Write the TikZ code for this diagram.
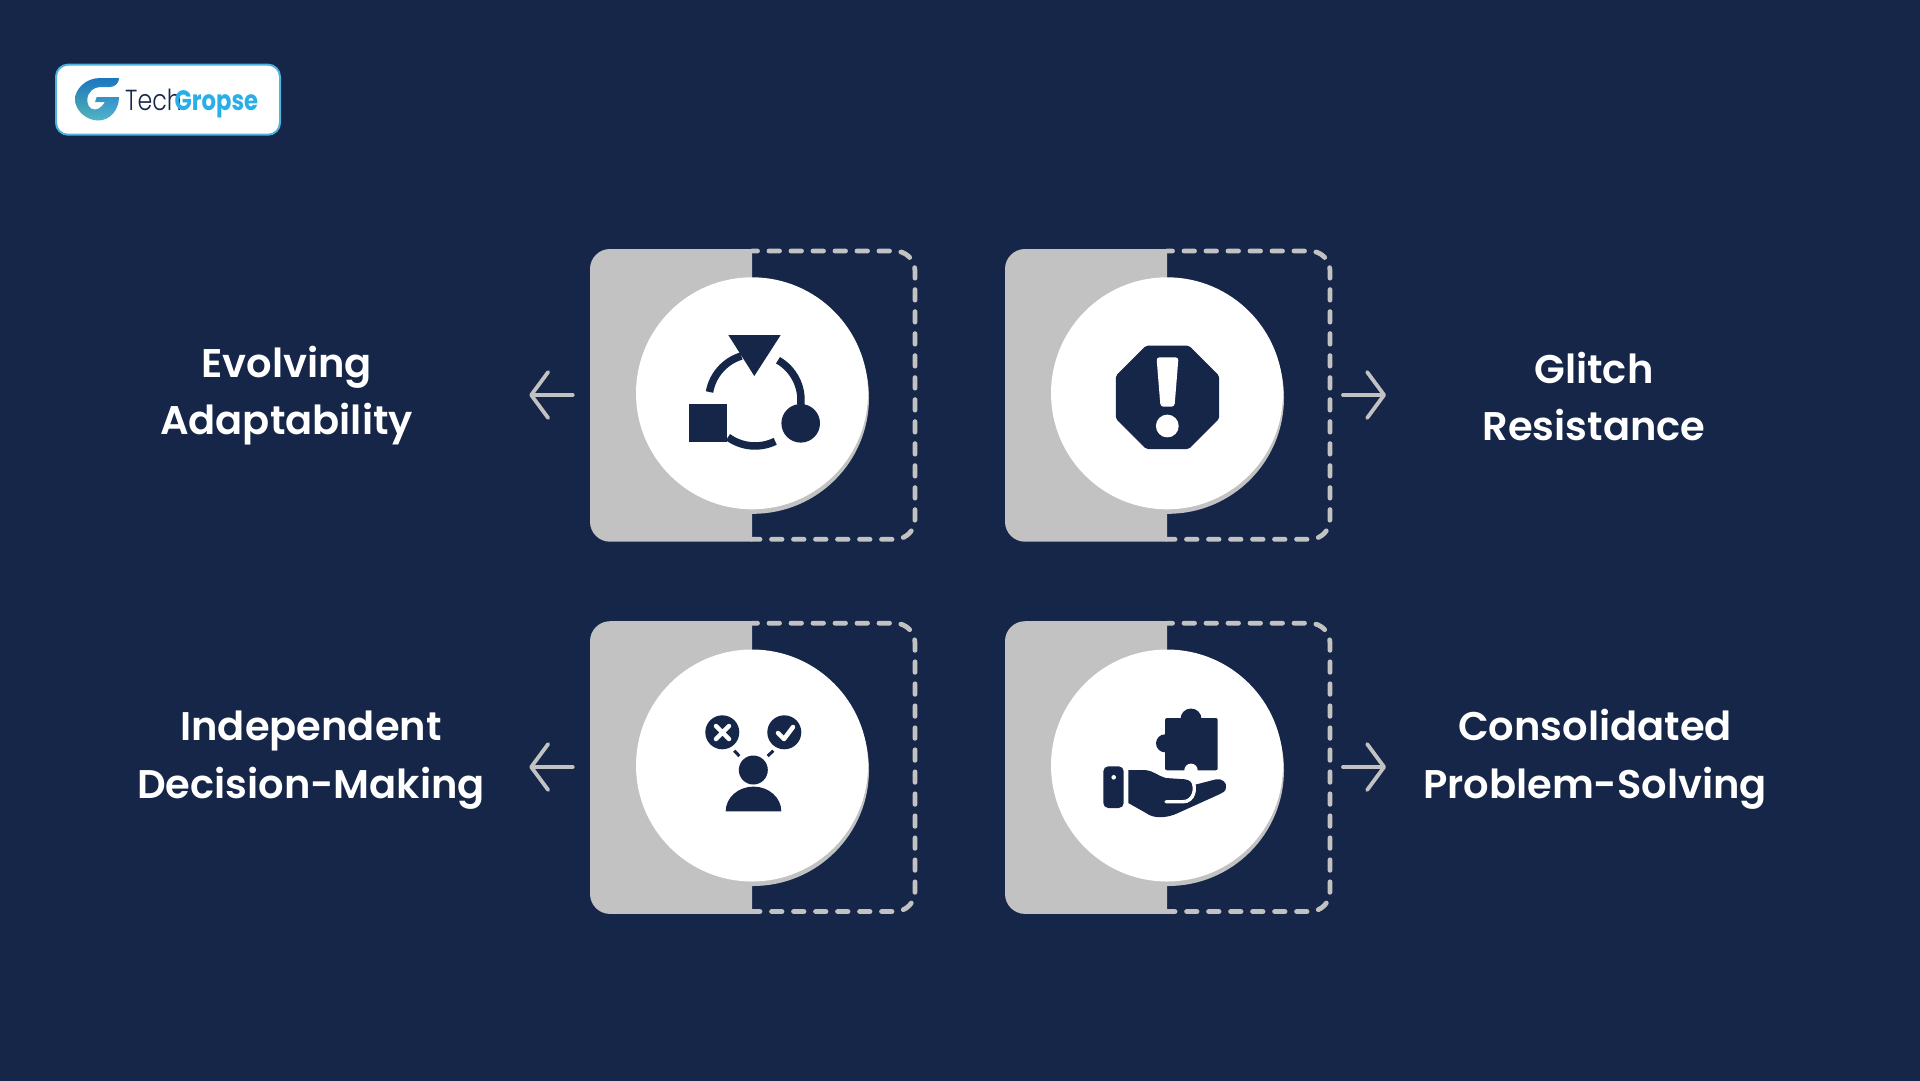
\documentclass[tikz,border=0pt]{standalone}
\usepackage{fontspec}
\usetikzlibrary{arrows.meta,shapes.geometric,shadings}
\setmainfont{Poppins}[UprightFont={* SemiBold},BoldFont={* Bold}]
\newfontfamily\logolight{Poppins}[UprightFont={* Light}]
\definecolor{navy}{HTML}{152648}
\definecolor{cardgrey}{HTML}{C2C2C2}
\definecolor{logoedge}{HTML}{4FB3DC}
\definecolor{logocyan}{HTML}{2AAEE8}
\definecolor{logotop}{HTML}{1B76BE}
\definecolor{logoteal}{HTML}{55B5AE}

\newcommand{\iconcard}[3]{
	\fill[cardgrey] (#2,#3-144.3) [rounded corners=20pt] -- (#2-162,#3-144.3) -- (#2-162,#3+148.4) [sharp corners] -- (#2,#3+148.4) -- cycle;
	\draw[dashline] (#2,#3-142.3) -- (#2+163,#3-142.3) -- (#2+163,#3+146) -- (#2,#3+146);
	\fill[cardgrey] (#2+1,#3+4.5) circle (116);
	\node[disc] (#1) at (#2,#3) {};
}

\begin{document}
\begin{tikzpicture}[
	x=1pt, y=-1pt,
	disc/.style = {circle, fill=white, minimum size=232pt, inner sep=0pt},
	dashline/.style = {draw=cardgrey, line width=4.8pt, line cap=round, rounded corners=20pt,
		dash pattern=on 10.5pt off 11.5pt, dash phase=5pt},
	caption/.style = {text=white, font=\fontsize{40}{57.6}\selectfont, align=center},
	pointer/.style = {draw=cardgrey, line width=3.8pt, line cap=round,
		-{Straight Barb[length=17pt, width=46pt, round]}},
	glyph/.style = {fill=navy, draw=none}]

	\useasboundingbox (0,0) rectangle (1920,1080);
	\fill[navy] (-5,-5) rectangle (1925,1085);

	% logo
	\node[draw=logoedge, fill=white, line width=2pt, rounded corners=12pt, minimum width=224pt, minimum height=70pt, inner sep=0pt] (logo) at (168,99.7) {};
	\shade[upper left=logotop, upper right=logotop, lower left=logoteal, lower right=logoedge] (119,78) -- (100,78) .. controls (85,78) and (75,90) .. (75,99) .. controls (75,111) and (87,120.5) .. (98,120.5) .. controls (110,120.5) and (119,110) .. (119,97) -- (96.7,97) -- (95,102) -- (105,102) .. controls (102,107) and (98,109.5) .. (95,109.5) .. controls (89,109.5) and (87.3,104) .. (87.3,100) .. controls (87.3,92) and (94,87) .. (100,87) -- (110,87) .. controls (115,87) and (119,83) .. (119,78) -- cycle;
	\node[anchor=base west, inner sep=0pt, text=navy, xscale=0.82, font=\logolight\fontsize{29}{29}\selectfont] (logotech) at (125,110) {Tech};
	\node[anchor=base west, inner sep=0pt, text=logocyan, xscale=0.81, font=\bfseries\fontsize{28}{28}\selectfont] (logogropse) at (174.5,110) {Gropse};

	\iconcard{evolve}{752}{393.3}
	\iconcard{glitch}{1167}{393.3}
	\iconcard{decide}{752}{765.5}
	\iconcard{solve}{1167}{765.5}

	% icon of the evolving card
	\fill[glyph] (728.3,335) -- (780.7,335) -- (754.3,376) -- cycle;
	\draw[navy, line width=7.5pt] (709.5,392) arc (-170:-107:46);
	\draw[navy, line width=7.5pt] (778,360.2) arc (-60:6:46);
	\draw[navy, line width=7.5pt] (775.2,441.3) arc (64:126:46);
	\fill[glyph] (689,404) rectangle (727.3,442.3);
	\fill[glyph] (800.7,423.3) circle (19.3);

	% icon of the glitch card
	\node[regular polygon, regular polygon sides=8, fill=navy, rounded corners=2pt, minimum size=112pt, inner sep=0pt] (stopsign) at (1167.5,397.3) {};
	\fill[white, rounded corners=3pt] (1156.5,357.3) -- (1178.5,357.3) -- (1174.5,406.7) -- (1160.5,406.7) -- cycle;
	\fill[white] (1167.3,426) circle (11.4);

	% icon of the decision card
	\fill[glyph] (722.3,732.3) circle (17);
	\fill[glyph] (784.3,732.3) circle (17);
	\draw[navy, line width=3pt] (734.3,750.7) -- (739.3,756);
	\draw[navy, line width=3pt] (773.3,750.7) -- (767.7,756);
	\fill[glyph] (753.3,770) circle (14.5);
	\fill[glyph] (725.7,811.3) arc (-180:0:27.8 and 24.7) -- cycle;
	\draw[white, line width=4.5pt, line cap=round] (716,726) -- (729,739) (729,726) -- (716,739);
	\draw[white, line width=4.5pt, line cap=round, line join=round] (778,733) -- (784,739) -- (793,727);

	% icon of the solving card
	\fill[glyph, rounded corners=2pt] (1165,718) -- (1217.7,718) -- (1217.7,770.3) -- (1165,770.3) -- cycle;
	\fill[glyph] (1191,719) circle (10.5);
	\fill[glyph] (1165,743.3) circle (9);
	\fill[white] (1191,770.3) circle (6.7);
	\fill[glyph, rounded corners=5pt] (1103.3,766.3) rectangle (1123.7,808);
	\fill[white] (1113.7,777.3) circle (2.3);
	\fill[glyph] (1128.3,770) -- (1145,770) .. controls (1152,770) and (1158,776) .. (1166,778) -- (1185,779.3) .. controls (1190,780) and (1192,783) .. (1194,785) -- (1216,779.3) .. controls (1222,778) and (1227,783) .. (1226,787) .. controls (1226,791) and (1223,793) .. (1220,794) -- (1178,813) .. controls (1170,817) and (1155,820) .. (1146,813) -- (1128.3,803) -- cycle;
	\draw[white, line width=3.4pt, line cap=round] (1166,801.7) -- (1183,801.7) .. controls (1194,801.7) and (1197,788) .. (1192,780);

	% pointers
	\coordinate (evolvestart) at (572.7,395);
	\coordinate (evolveend) at (529.3,395);
	\coordinate (glitchstart) at (1343,395);
	\coordinate (glitchend) at (1386,395);
	\coordinate (decidestart) at (572.7,767);
	\coordinate (decideend) at (529.3,767);
	\coordinate (solvestart) at (1343,767);
	\coordinate (solveend) at (1386,767);
	\draw[pointer] (evolvestart) -- (evolveend);
	\draw[pointer] (glitchstart) -- (glitchend);
	\draw[pointer] (decidestart) -- (decideend);
	\draw[pointer] (solvestart) -- (solveend);

	\node[caption] (evolvetext) at (286.5,395.5) {Evolving\\Adaptability};
	\node[caption] (glitchtext) at (1594,396.5) {Glitch\\Resistance};
	\node[caption] (decidetext) at (311,760) {Independent\\Decision-Making};
	\node[caption] (solvetext) at (1595,759) {Consolidated\\Problem-Solving};
\end{tikzpicture}
\end{document}
